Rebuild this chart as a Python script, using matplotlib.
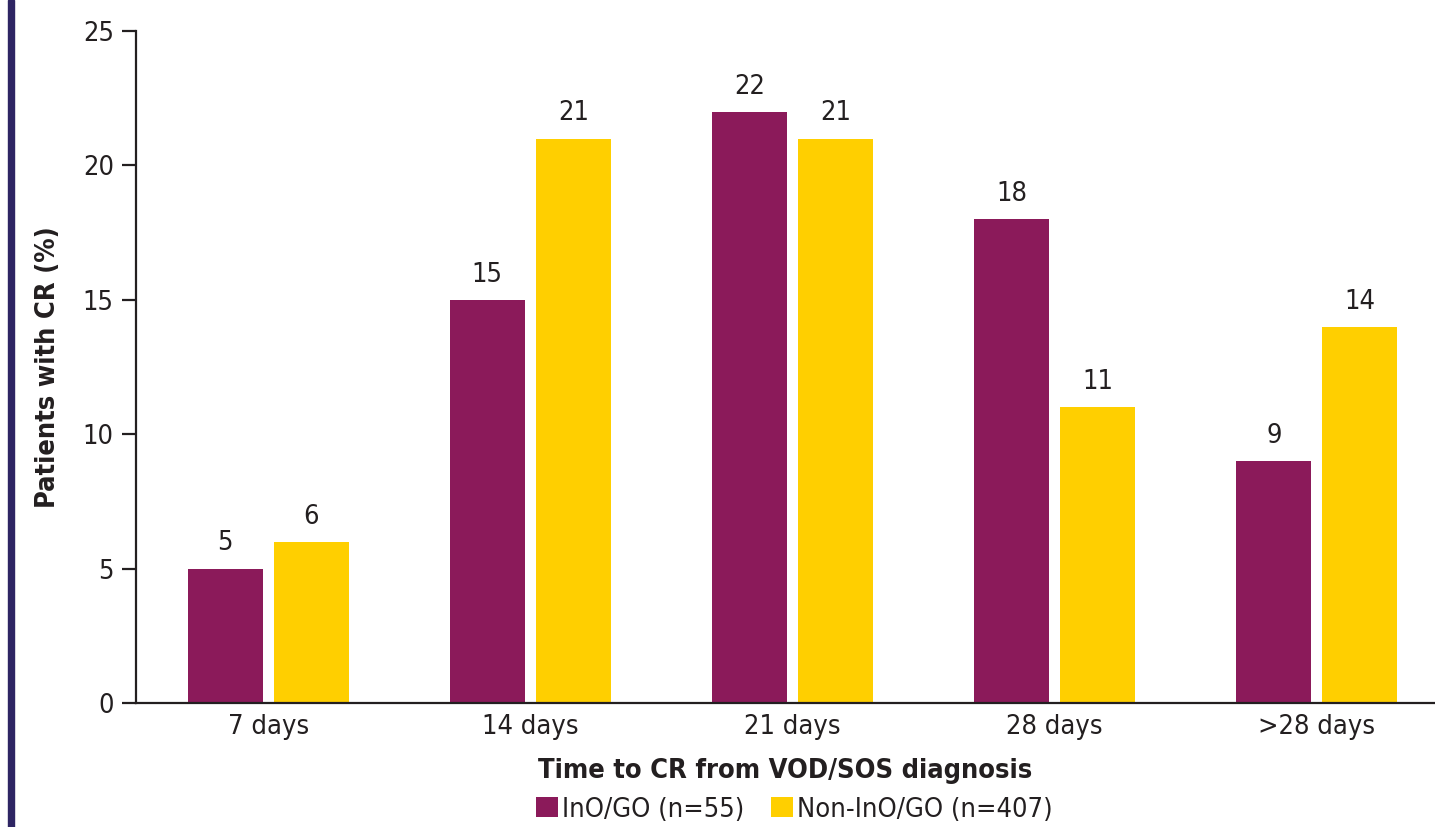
import numpy as np
import matplotlib.pyplot as plt
from matplotlib.patches import Rectangle

categories = ["7 days", "14 days", "21 days", "28 days", ">28 days"]
ino_go = [5, 15, 22, 18, 9]
non_ino_go = [6, 21, 21, 11, 14]
series_names = ["InO/GO (n=55)", "Non-InO/GO (n=407)"]

plt.rcParams["font.family"] = ["DejaVu Sans"]
plt.rcParams["font.stretch"] = "condensed"

purple = "#8b1a5a"
yellow = "#ffcf00"
ink = "#231f20"
fs = 19.5

fig = plt.figure(figsize=(14.35, 8.27), dpi=100)
ax = fig.add_axes([0.0948, 0.150, 0.905, 0.8125])

# side stripe
fig.patches.append(Rectangle((0.0056, 0), 0.0045, 1, transform=fig.transFigure,
                             color="#2e2563", zorder=0))

x = np.arange(len(categories))
w = 0.286
off = 0.164
b1 = ax.bar(x - off, ino_go, w, color=purple, label=series_names[0])
b2 = ax.bar(x + off, non_ino_go, w, color=yellow, label=series_names[1])

for bars, vals in ((b1, ino_go), (b2, non_ino_go)):
    for r, v in zip(bars, vals):
        ax.text(r.get_x() + r.get_width() / 2, v + 0.45, str(v),
                ha="center", va="bottom", fontsize=fs, color=ink)

ax.set_xlim(-0.504, 4.45)
ax.set_ylim(0, 25)
ax.set_yticks([0, 5, 10, 15, 20, 25])
ax.set_xticks(x)
ax.set_xticklabels(categories)

for s in ("top", "right"):
    ax.spines[s].set_visible(False)
for s in ("left", "bottom"):
    ax.spines[s].set_color(ink)
    ax.spines[s].set_linewidth(1.6)
ax.tick_params(axis="y", length=10, width=1.6, color=ink, labelsize=fs,
               labelcolor=ink, pad=6)
ax.tick_params(axis="x", length=0, labelsize=fs, labelcolor=ink, pad=8)

ax.set_ylabel("Patients with CR (%)", fontsize=fs, fontweight="bold",
              color=ink, labelpad=16)
ax.set_xlabel("Time to CR from VOD/SOS diagnosis", fontsize=fs,
              fontweight="bold", color=ink, labelpad=13)

ax.legend(loc="upper center", bbox_to_anchor=(0.507, -0.103), ncol=2,
          frameon=False, fontsize=fs, handlelength=0.8, handleheight=0.8,
          handletextpad=0.15, columnspacing=1.0, labelcolor=ink)

fig.savefig("out.png", dpi=100)
